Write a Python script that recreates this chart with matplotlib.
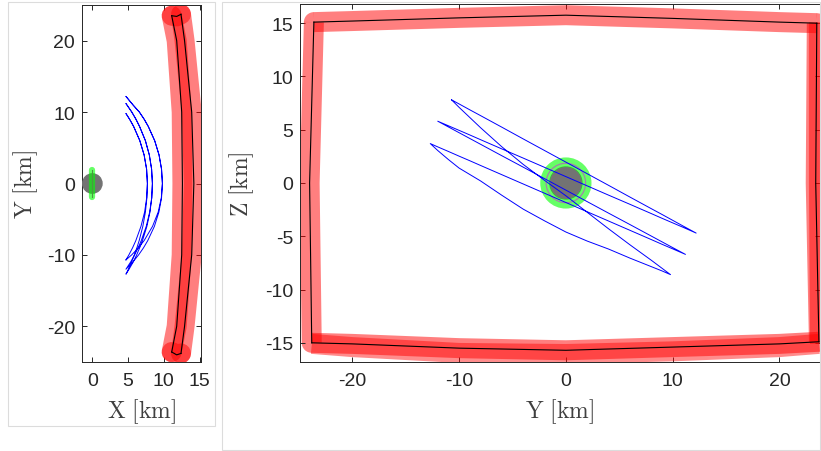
import matplotlib
matplotlib.use('Agg')
import matplotlib.pyplot as plt
from matplotlib.patches import Circle, Rectangle, Wedge

plt.rcParams['font.family'] = ['Liberation Sans', 'DejaVu Sans']
plt.rcParams['mathtext.fontset'] = 'cm'
plt.rcParams['axes.unicode_minus'] = False

# One row per leg: A->D, D->B, B->E, E->C, C->F, F->A
traj_x = [4.7, 5.5, 6.45, 7.24, 8.42, 9.21, 9.65, 9.8, 9.68, 9.33, 8.72, 7.82, 7.25, 6.58, 5.69, 4.7,
          5.69, 6.58, 7.25, 7.82, 8.72, 9.33, 9.68, 9.8, 9.68, 9.31, 8.68, 7.75, 7.16, 6.47, 5.66, 4.7,
          5.35, 5.91, 6.41, 6.84, 7.54, 8.02, 8.31, 8.4, 8.29, 7.97, 7.42, 6.6, 6.1, 5.52, 4.7,
          5.52, 6.1, 6.6, 7.42, 7.97, 8.29, 8.4, 8.31, 8.06, 7.63, 7.01, 6.62, 6.2, 5.71, 5.14, 4.7,
          5.04, 5.48, 5.88, 6.23, 6.55, 7.06, 7.42, 7.63, 7.7, 7.59, 7.24, 6.64, 5.77, 5.21, 4.7,
          5.21, 5.77, 6.64, 7.24, 7.59, 7.7, 7.6, 7.31, 6.8, 6.08, 5.63, 5.11, 4.7]
traj_y = [-10.7, -10, -9, -8, -6, -4, -2, 0, 2, 4, 6, 8, 9, 10, 11, 12.2,
          11, 10, 9, 8, 6, 4, 2, 0, -2, -4, -6, -8, -9, -10, -11, -12.0,
          -11, -10, -9, -8, -6, -4, -2, 0, 2, 4, 6, 8, 9, 10, 11.2,
          10, 9, 8, 6, 4, 2, 0, -2, -4, -6, -8, -9, -10, -11, -12, -12.7,
          -12, -11, -10, -9, -8, -6, -4, -2, 0, 2, 4, 6, 8, 9, 9.8,
          9, 8, 6, 4, 2, 0, -2, -4, -6, -8, -9, -10, -10.7]
traj_z = [7.8, 7.42, 6.87, 6.33, 5.24, 4.14, 3.05, 1.96, 0.87, -0.22, -1.32, -2.41, -2.95, -3.5, -4.05, -4.7,
          -4.17, -3.74, -3.31, -2.87, -2.0, -1.14, -0.27, 0.6, 1.47, 2.34, 3.2, 4.07, 4.51, 4.94, 5.37, 5.8,
          5.26, 4.72, 4.18, 3.64, 2.56, 1.49, 0.41, -0.67, -1.75, -2.83, -3.9, -4.98, -5.52, -6.06, -6.7,
          -6.18, -5.75, -5.31, -4.44, -3.57, -2.7, -1.83, -0.96, -0.09, 0.78, 1.65, 2.09, 2.52, 2.96, 3.39, 3.7,
          3.05, 2.2, 1.4, 0.8, 0.2, -1.15, -2.45, -3.55, -4.6, -5.45, -6.2, -7.05, -7.85, -8.25, -8.6,
          -8.0, -7.25, -5.8, -4.3, -2.75, -1.2, 0.25, 1.75, 3.4, 5.2, 6.15, 7.1, 7.8]

# Edges of the red (curved) panel [km]
upper_x = [11.1, 11.8, 12.5, 12.6, 12.5, 11.8, 11.1]
upper_y = [-23.6, -20, -10, 0, 10, 20, 23.5]
upper_z = [15.1, 15.2, 15.5, 15.75, 15.45, 15.1, 15.0]
lower_x = [12.4, 12.9, 13.9, 14.2, 13.9, 12.9, 12.4]
lower_y = [-23.8, -20, -10, 0, 10, 20, 23.7]
lower_z = [-15.0, -15.1, -15.5, -15.7, -15.4, -15.1, -14.9]
side_l_x = [11.1, 11.8, 12.4]
side_l_y = [-23.6, -24.0, -23.8]
side_l_z = [15.1, 0, -15.0]
side_r_x = [11.1, 11.8, 12.4]
side_r_y = [23.5, 23.4, 23.7]
side_r_z = [15.0, 0, -14.9]

# second (back) copy of the bottom and right edges, seen in the Y-Z view
back_lower_y = [-23.8, -20, -10, 0, 10, 20, 23.7]
back_lower_z = [-15.1, -15.4, -15.95, -16.05, -15.8, -15.4, -15.1]
back_right_y = [23.7, 23.7, 23.8]
back_right_z = [15.1, 0, -15.1]

body_r_xy = 1.35
body_r_yz = 1.5
ring_r = 1.95
ring_inner_r = 1.85

edges = [(upper_x, upper_y, upper_z), (lower_x, lower_y, lower_z),
         (side_l_x, side_l_y, side_l_z), (side_r_x, side_r_y, side_r_z)]

W, H = 821, 452
band_lw = 14.4  # points (about 20 px)
fig = plt.figure(figsize=(W / 100, H / 100), dpi=100)

# light frames around the two exported panels
fig.add_artist(Rectangle((8 / W, 25 / H), 207 / W, 424 / H, transform=fig.transFigure,
                         fill=False, edgecolor='#dcdcdc', lw=0.8))
fig.add_artist(Rectangle((222 / W, 1 / H), 598 / W, 448 / H, transform=fig.transFigure,
                         fill=False, edgecolor='#dcdcdc', lw=0.8))

ax1 = fig.add_axes([82 / W, 89 / H, 119 / W, 357 / H])
ax2 = fig.add_axes([300 / W, 89 / H, 520 / W, 358 / H])

# X-Y view
for ex, ey, ez in edges:
    ax1.plot(ex, ey, color='red', alpha=0.5, lw=band_lw,
             solid_capstyle='round', solid_joinstyle='round')
for ex, ey, ez in edges:
    ax1.plot(ex, ey, color='black', lw=0.8)
ax1.add_patch(Circle((0, 0), body_r_xy, color='0.45', zorder=3))
ax1.plot([0, 0], [ring_r, -ring_r], color=(0, 1, 0), alpha=0.6, lw=4.5,
         solid_capstyle='round', zorder=4)
ax1.plot([0, 0], [ring_inner_r, -ring_inner_r], color='#4a9a40', lw=0.8, zorder=4)
ax1.plot(traj_x, traj_y, color='blue', lw=0.7, zorder=5)
ax1.set_xlim(-1.45, 15.2)
ax1.set_ylim(-25, 25)
ax1.set_xticks([0, 5, 10, 15])
ax1.set_yticks([-20, -10, 0, 10, 20])
ax1.set_xlabel(r'$\mathrm{X\ [km]}$', fontsize=17, color='0.25')
ax1.set_ylabel(r'$\mathrm{Y\ [km]}$', fontsize=17, color='0.25')
ax1.xaxis.set_label_coords(0.5, -0.095)
ax1.yaxis.set_label_coords(-0.35, 0.5)

# Y-Z view: separate edges with square ends, rounded outer corners
for ex, ey, ez in edges:
    ax2.plot(ey, ez, color='red', alpha=0.5, lw=band_lw,
             solid_capstyle='butt', solid_joinstyle='round')
ax2.plot(back_lower_y, back_lower_z, color='red', alpha=0.45, lw=band_lw,
         solid_capstyle='butt', solid_joinstyle='round')
ax2.plot(back_right_y, back_right_z, color='red', alpha=0.45, lw=band_lw,
         solid_capstyle='butt', solid_joinstyle='round')
corner_r = (band_lw / 72 * 100 / 2) / (520 / (23.8 + 24.9))
corners = [(upper_y[0], upper_z[0], 90), (upper_y[-1], upper_z[-1], 0),
           (lower_y[-1], lower_z[-1], 270), (lower_y[0], lower_z[0], 180)]
for cy, cz, a0 in corners:
    ax2.add_patch(Wedge((cy, cz), corner_r, a0, a0 + 90, color='red', alpha=0.5, lw=0))
for ex, ey, ez in edges:
    ax2.plot(ey, ez, color='black', lw=0.8)
ax2.add_patch(Circle((0, 0), body_r_yz, color='0.45', zorder=3))
ax2.add_patch(Circle((0, 0), ring_r, fill=False, edgecolor=(0, 1, 0), alpha=0.6, lw=6.9, zorder=4))
ax2.add_patch(Circle((0, 0), ring_inner_r, fill=False, edgecolor='#a878b0', lw=0.8, zorder=4))
ax2.plot(traj_y, traj_z, color='blue', lw=0.7, zorder=5)
ax2.set_xlim(-24.9, 23.8)
ax2.set_ylim(-16.8, 16.8)
ax2.set_xticks([-20, -10, 0, 10, 20])
ax2.set_yticks([-15, -10, -5, 0, 5, 10, 15])
ax2.set_xlabel(r'$\mathrm{Y\ [km]}$', fontsize=17, color='0.25')
ax2.set_ylabel(r'$\mathrm{Z\ [km]}$', fontsize=17, color='0.25')
ax2.xaxis.set_label_coords(0.5, -0.095)
ax2.yaxis.set_label_coords(-0.085, 0.5)

for ax in (ax1, ax2):
    ax.tick_params(direction='in', length=3.5, width=0.7, top=True, right=True,
                   labelsize=14, colors='#262626')
    ax.tick_params(axis='x', pad=7)
    ax.tick_params(axis='y', pad=5)
    for sp in ax.spines.values():
        sp.set_color('#262626')
        sp.set_linewidth(0.7)

fig.savefig('out.png', dpi=100)
